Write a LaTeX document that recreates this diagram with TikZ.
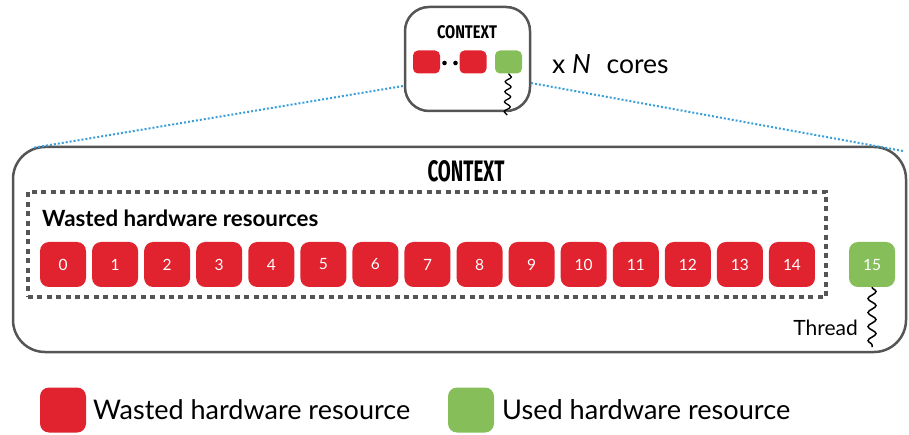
\documentclass[tikz,border=0pt]{standalone}
\usepackage{fontspec}
\setmainfont{Lato}
\newfontfamily\headfont{Fira Sans}
\usetikzlibrary{decorations.pathmorphing}
\definecolor{wastered}{HTML}{E0232F}
\definecolor{usedgreen}{HTML}{86BE5A}
\definecolor{frame}{HTML}{555555}
\definecolor{linkblue}{HTML}{3A9FD8}
\tikzset{
  x=1pt, y=-1pt,
  cell/.style={rounded corners=9pt, minimum width=46pt, minimum height=45pt,
    inner sep=0pt, text=white, font=\fontsize{15.5}{15.5}\selectfont},
  wasted/.style={cell, fill=wastered},
  used/.style={cell, fill=usedgreen},
  minicell/.style={rounded corners=5pt, minimum width=27pt, minimum height=23pt, inner sep=0pt},
  ctxframe/.style={draw=frame, line width=2.5pt, inner sep=0pt},
  zoomline/.style={linkblue, line width=2pt, dash pattern=on 2pt off 2pt},
  thread/.style={line width=1.5pt, decorate,
    decoration={snake, segment length=14pt, amplitude=4pt}},
  smallthread/.style={line width=1.3pt, decorate,
    decoration={snake, segment length=10pt, amplitude=3pt}},
  legendtext/.style={anchor=west, inner sep=0pt, font=\fontsize{24}{24}\selectfont},
}
\begin{document}
\begin{tikzpicture}
\useasboundingbox (0,0) rectangle (909,435);

% one core: small context box
\node[ctxframe, rounded corners=24pt, minimum width=125pt, minimum height=104pt] (core) at (467.5,59) {};
\node[inner sep=0pt] (coretitle) at (467,32) {\resizebox{60pt}{13pt}{\headfont\bfseries CONTEXT}};
\node[minicell, fill=wastered] (m1) at (426.5,62) {};
\node[minicell, fill=wastered] (m2) at (473,62) {};
\node[minicell, fill=usedgreen] (m3) at (508.5,62) {};
\fill (444.5,63) circle (2.3pt) (455.5,63) circle (2.3pt);
\coordinate (coreend) at (507,115);
\draw[smallthread] (m3.south) -- (coreend);
\node[anchor=west, inner sep=0pt, font=\fontsize{26.5}{26.5}\selectfont] (times) at (552,64) {x \textit{N}\,\, cores};

% expanded context
\node[ctxframe, rounded corners=32pt, minimum width=893pt, minimum height=205pt] (ctx) at (459.5,249.5) {};
\node[inner sep=0pt] (ctxtitle) at (466,171) {\resizebox{77pt}{21pt}{\headfont\bfseries CONTEXT}};

% zoom lines
\coordinate (zl) at (403,86);
\coordinate (zr) at (531,83);
\coordinate (bl) at (32,148);
\coordinate (br) at (903,151);
\draw[zoomline] (zl) -- (bl);
\draw[zoomline] (zr) -- (br);

% wasted group
\node[draw=frame, line width=4pt, dash pattern=on 5pt off 4.4pt, minimum width=798pt,
  minimum height=105pt, inner sep=0pt] (group) at (427,244.5) {};
\node[anchor=west, inner sep=0pt] (grouplabel) at (42,218)
  {\resizebox{276pt}{!}{\bfseries Wasted hardware resources}};

\foreach \i in {0,...,14} {
  \node[wasted] (c\i) at ({63+52.07*\i},264.5) {\i};
}
\node[used] (c15) at (872,264.5) {15};
\coordinate (threadend) at (872,347);
\draw[thread] (c15.south) -- (threadend);
\node[anchor=east, inner sep=0pt, font=\fontsize{21}{21}\selectfont] (threadlabel) at (858,328) {Thread};

% legend
\node[wasted] (kw) at (63,410) {};
\node[legendtext] (kwt) at (93,410) {\resizebox{317pt}{!}{Wasted hardware resource}};
\node[used] (ku) at (471,410) {};
\node[legendtext] (kut) at (502,410) {\resizebox{288pt}{!}{Used hardware resource}};
\end{tikzpicture}
\end{document}
